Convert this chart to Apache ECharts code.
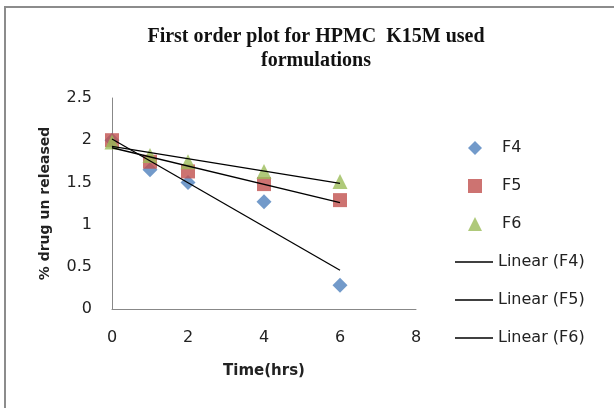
<!DOCTYPE html>
<html><head><meta charset="utf-8">
<script src="https://cdn.jsdelivr.net/npm/echarts@6/dist/echarts.min.js"></script>
<style>
html,body{margin:0;padding:0;background:#fff;}
#c{width:614px;height:408px;position:relative;}
#frame{position:absolute;left:4px;top:6px;width:620px;height:420px;border-left:2px solid #8c8c8c;border-top:2px solid #8c8c8c;pointer-events:none;}
</style></head>
<body>
<div id="c"></div><div id="frame"></div>
<script>
const time = [0, 1, 2, 4, 6];
const f4 = [2.0, 1.65, 1.50, 1.27, 0.28];
const f5 = [2.0, 1.745, 1.63, 1.48, 1.29];
const f6 = [1.98, 1.82, 1.745, 1.63, 1.51];
const seriesNames = ['F4', 'F5', 'F6'];
const trendNames = ['Linear (F4)', 'Linear (F5)', 'Linear (F6)'];
const xTicks = [0, 2, 4, 6, 8];
const yTicks = [0, 0.5, 1, 1.5, 2, 2.5];

function fit(xs, ys) {
  const n = xs.length;
  const mx = xs.reduce((a,b)=>a+b,0)/n, my = ys.reduce((a,b)=>a+b,0)/n;
  let sxy = 0, sxx = 0;
  for (let i=0;i<n;i++){ sxy += (xs[i]-mx)*(ys[i]-my); sxx += (xs[i]-mx)*(xs[i]-mx); }
  const b = sxy/sxx, a = my - b*mx;
  const x0 = Math.min(...xs), x1 = Math.max(...xs);
  return [[x0, a+b*x0],[x1, a+b*x1]];
}
const pts = ys => time.map((t,i)=>[t, ys[i]]);
const all = [f4, f5, f6];
const colors = ['#4F81BD', '#C0504D', '#9BBB59'];
const symbols = ['diamond', 'rect', 'triangle'];
const sizes = [15, 14, 15];

const chart = echarts.init(document.getElementById('c'), null, {renderer:'canvas'});
const series = [];
all.forEach((ys,i)=>{
  series.push({name: seriesNames[i], type:'scatter', data: pts(ys), symbol: symbols[i], symbolSize: sizes[i],
    itemStyle:{color: colors[i]}, z: 2});
});
all.forEach((ys,i)=>{
  series.push({name: trendNames[i], type:'line', data: fit(time, ys), symbol:'none', showSymbol:false,
    lineStyle:{color:'#000', width:1.3}, itemStyle:{color:'#000'}, z: 3, silent:true});
});
const font = '"DejaVu Sans", sans-serif';
const lineIcon = 'path://M0,0L38,0L38,1.3L0,1.3Z';
chart.setOption({
  animation:false,
  backgroundColor:'#fff',
  title:{text:'First order plot for HPMC  K15M used\nformulations', left:311, top:20, textAlign:'center',
    textStyle:{fontFamily:'"Liberation Serif", serif', fontWeight:'bold', fontSize:20, color:'#111', lineHeight:24}},
  grid:{left:112, right:198, top:98, bottom:99},
  xAxis:{type:'value', min:0, max:8, interval:2,
    axisLine:{lineStyle:{color:'#888', width:1}}, axisTick:{show:false}, splitLine:{show:false},
    axisLabel:{color:'#222', fontSize:16, fontFamily:font, margin:21},
    name:'Time(hrs)', nameLocation:'middle', nameGap:55,
    nameTextStyle:{fontFamily:font, fontWeight:'bold', fontSize:15, color:'#222'}},
  yAxis:{type:'value', min:0, max:2.5, interval:0.5,
    axisLine:{show:true, lineStyle:{color:'#888', width:1}}, axisTick:{show:false}, splitLine:{show:false},
    axisLabel:{color:'#222', fontSize:16, fontFamily:font, margin:20},
    name:'% drug un released', nameLocation:'middle', nameGap:60,
    nameTextStyle:{fontFamily:font, fontWeight:'bold', fontSize:14, color:'#222'}},
  legend:[
    {data: seriesNames, orient:'vertical', left:468, top:140, padding:0, itemWidth:14, itemHeight:14, itemGap:22,
      textStyle:{fontFamily:font, fontSize:16, color:'#222', padding:[0,0,0,15]}},
    {data: trendNames.map(n=>({name:n, icon:lineIcon})), orient:'vertical', left:455, top:254, padding:0, itemWidth:38, itemHeight:1.3, itemGap:22,
      textStyle:{fontFamily:font, fontSize:16, color:'#222', lineHeight:16, padding:[0,0,0,0]}}
  ],
  series
});
</script>
</body></html>
